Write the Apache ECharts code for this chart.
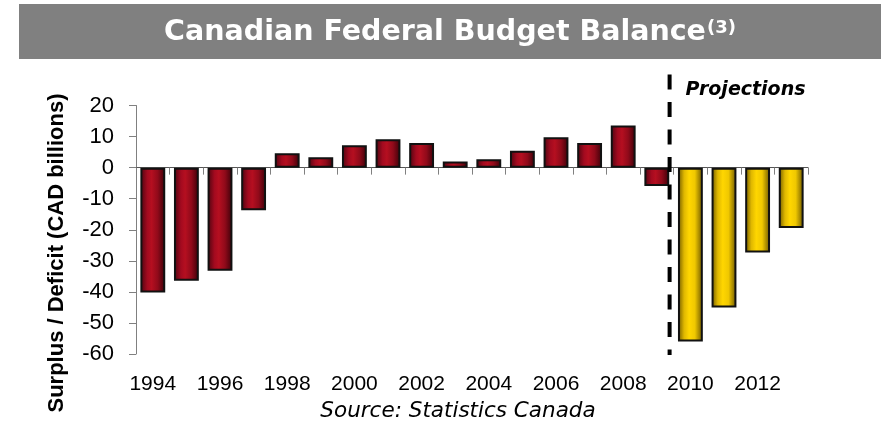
<!DOCTYPE html>
<html>
<head>
<meta charset="utf-8">
<script src="https://cdn.jsdelivr.net/npm/echarts@6/dist/echarts.min.js"></script>
<style>
  html, body { margin: 0; padding: 0; background: #ffffff; }
  #chart { width: 881px; height: 425px; }
</style>
</head>
<body>
<div id="chart"></div>
<script>
// Fiscal years on the category axis
const years = ['1994','1995','1996','1997','1998','1999','2000','2001','2002','2003',
               '2004','2005','2006','2007','2008','2009','2010','2011','2012','2013'];
// Reported surplus / deficit, CAD billions
const actualBalance = [-40.2, -36.4, -33.2, -13.7, 4.6, 3.3, 7.2, 9.1, 7.9, 2.0,
                       2.7, 5.4, 9.8, 7.9, 13.6, -5.9, null, null, null, null];
// Projected balance, CAD billions
const projectedBalance = [null, null, null, null, null, null, null, null, null, null,
                          null, null, null, null, null, null, -56.0, -45.0, -27.3, -19.4];
// Value axis ticks
const yMin = -60, yMax = 20, yStep = 10;
const firstProjectedYear = '2010';

const sans = '"Liberation Sans", Arial, sans-serif';
const wide = '"DejaVu Sans", Verdana, sans-serif';

const redFill = new echarts.graphic.LinearGradient(0, 0, 1, 0, [
  { offset: 0, color: '#4a0510' },
  { offset: 0.28, color: '#a30a1f' },
  { offset: 0.45, color: '#b50f20' },
  { offset: 0.7, color: '#900a1a' },
  { offset: 1, color: '#3a0008' }
]);
const goldFill = new echarts.graphic.LinearGradient(0, 0, 1, 0, [
  { offset: 0, color: '#6e5800' },
  { offset: 0.25, color: '#e0b800' },
  { offset: 0.45, color: '#ffd600' },
  { offset: 0.68, color: '#f0c800' },
  { offset: 1, color: '#6a5400' }
]);

const chart = echarts.init(document.getElementById('chart'), null, { renderer: 'canvas' });

chart.setOption({
  animation: false,
  backgroundColor: '#ffffff',
  grid: { left: 136, right: 73, top: 105.5, bottom: 71, containLabel: false },
  xAxis: [
    {
      // zero line with category boundary ticks
      type: 'category',
      data: years,
      boundaryGap: true,
      axisLine: { onZero: true, lineStyle: { color: '#555555', width: 1 } },
      axisTick: { show: true, interval: 0, length: 7, lineStyle: { color: '#808080', width: 1 } },
      axisLabel: { show: false },
      splitLine: { show: false }
    },
    {
      // year labels along the bottom
      type: 'category',
      data: years,
      position: 'bottom',
      boundaryGap: true,
      axisLine: { show: false, onZero: false },
      axisTick: { show: false },
      axisLabel: { show: true, interval: 1, margin: 20, fontFamily: sans, fontSize: 21, color: '#000000' },
      splitLine: { show: false }
    }
  ],
  yAxis: {
    type: 'value',
    min: yMin,
    max: yMax,
    interval: yStep,
    axisLine: { show: true, lineStyle: { color: '#808080', width: 1 } },
    axisTick: { show: true, length: 7, lineStyle: { color: '#808080', width: 1 } },
    axisLabel: { margin: 22, fontFamily: sans, fontSize: 22, color: '#000000' },
    splitLine: { show: false }
  },
  series: [
    {
      name: 'Actual',
      type: 'bar',
      xAxisIndex: 0,
      stack: 'balance',
      data: actualBalance,
      barCategoryGap: '26%',
      itemStyle: { color: redFill, borderColor: '#111111', borderWidth: 2 }
    },
    {
      name: 'Projection',
      type: 'bar',
      xAxisIndex: 0,
      stack: 'balance',
      data: projectedBalance,
      barCategoryGap: '26%',
      itemStyle: { color: goldFill, borderColor: '#111111', borderWidth: 2 }
    }
  ]
});

// Header bar, axis title, source note and projection divider
function drawDecorations() {
  const idx = years.indexOf(firstProjectedYear);
  const xPrev = chart.convertToPixel({ xAxisIndex: 0 }, years[idx - 1]);
  const xNext = chart.convertToPixel({ xAxisIndex: 0 }, years[idx]);
  const divX = (xPrev + xNext) / 2 - 4;
  const yTopPx = chart.convertToPixel({ yAxisIndex: 0 }, yMax);
  const yBotPx = chart.convertToPixel({ yAxisIndex: 0 }, yMin);

  chart.setOption({
    graphic: [
      {
        type: 'rect', left: 19, top: 4, z: 0,
        shape: { width: 862, height: 55 },
        style: { fill: '#808080' }
      },
      {
        type: 'text', x: 450, y: 33, z: 2,
        style: {
          text: '{t|Canadian Federal Budget Balance}{s|(3)}',
          align: 'center', verticalAlign: 'middle',
          rich: {
            t: { fontFamily: wide, fontWeight: 'bold', fontSize: 28.5, fill: '#ffffff', lineHeight: 32 },
            s: { fontFamily: wide, fontWeight: 'bold', fontSize: 18, fill: '#ffffff', verticalAlign: 'top', lineHeight: 32, padding: [2, 0, 6, 1] }
          }
        }
      },
      {
        type: 'text', x: 57, y: 253, rotation: Math.PI / 2, z: 2,
        style: {
          text: 'Surplus / Deficit (CAD billions)',
          fontFamily: sans, fontWeight: 'bold', fontSize: 22, fill: '#000000',
          align: 'center', verticalAlign: 'middle'
        }
      },
      {
        type: 'text', x: 458, y: 411, z: 2,
        style: {
          text: 'Source: Statistics Canada',
          fontFamily: wide, fontStyle: 'italic', fontSize: 21.5, fill: '#000000',
          align: 'center', verticalAlign: 'middle'
        }
      },
      {
        type: 'line', z: 10,
        shape: { x1: divX, y1: yTopPx - 31, x2: divX, y2: yBotPx + 1 },
        style: { stroke: '#000000', lineWidth: 4, lineDash: [15, 12.5] }
      },
      {
        type: 'text', x: divX + 16, y: 90, z: 2,
        style: {
          text: 'Projections',
          fontFamily: wide, fontStyle: 'italic', fontWeight: 'bold', fontSize: 19, fill: '#000000',
          align: 'left', verticalAlign: 'middle'
        }
      }
    ]
  });
}
drawDecorations();
</script>
</body>
</html>
